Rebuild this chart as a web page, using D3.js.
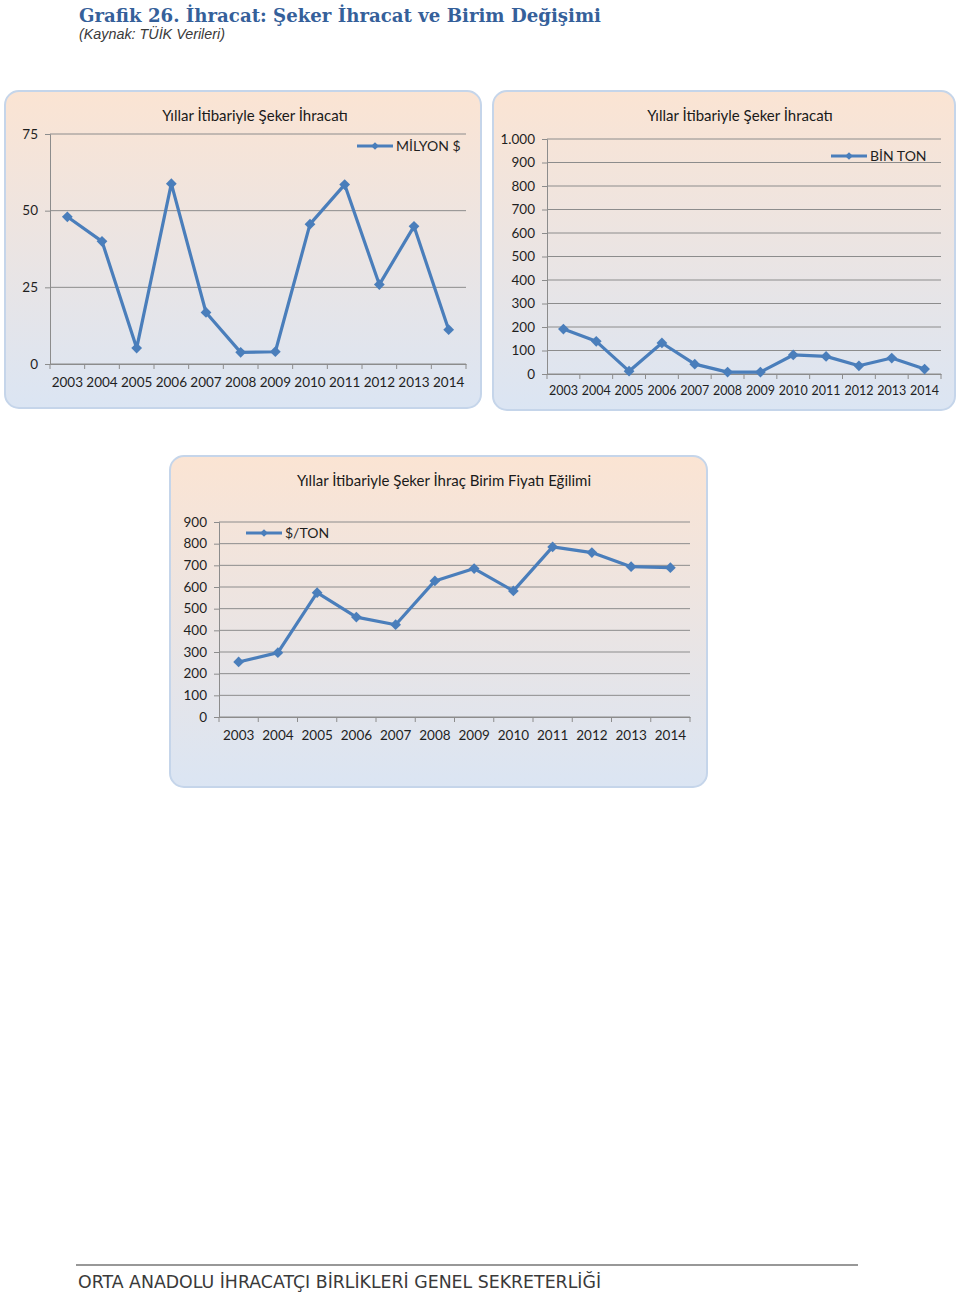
<!DOCTYPE html>
<html><head><meta charset="utf-8">
<script src="https://cdn.jsdelivr.net/npm/d3@7"></script>
<style>body{margin:0;background:#fff}svg{display:block}</style>
</head><body>
<svg id="c" width="960" height="1292"></svg>
<script>
const years = ["2003","2004","2005","2006","2007","2008","2009","2010","2011","2012","2013","2014"];
const milyonDolar = [48, 40, 5.2, 58.8, 16.8, 3.8, 4, 45.6, 58.5, 25.9, 44.9, 11.2];
const binTon = [191, 139, 12, 132, 42, 8, 8, 81, 75, 35, 68, 21];
const dolarTon = [254, 297, 574, 461, 426, 628, 685, 582, 785, 759, 694, 689];
const ticks1 = [0, 25, 50, 75];
const ticks2 = [0, 100, 200, 300, 400, 500, 600, 700, 800, 900, 1000];
const ticks3 = [0, 100, 200, 300, 400, 500, 600, 700, 800, 900];
const titleA = "Yıllar  İtibariyle Şeker İhracatı";
const titleC = "Yıllar  İtibariyle Şeker İhraç Birim Fiyatı Eğilimi";
const legends = ["MİLYON $", "BİN TON", "$/TON"];

const svg = d3.select("#c");
const trLocale = d3.formatLocale({decimal: ",", thousands: ".", grouping: [3], currency: ["", ""]});
const fmt = trLocale.format(",");

const defs = svg.append("defs");
const grad = defs.append("linearGradient").attr("id", "bg").attr("x1", 0).attr("y1", 0).attr("x2", 0).attr("y2", 1);
grad.append("stop").attr("offset", "0%").attr("stop-color", "#fbe4d3");
grad.append("stop").attr("offset", "100%").attr("stop-color", "#dbe5f3");

// header
svg.append("text").attr("x", 79).attr("y", 22)
  .attr("font-family", "DejaVu Serif").attr("font-weight", "bold").attr("font-size", 19)
  .attr("fill", "#35609a").attr("textLength", 522).attr("lengthAdjust", "spacingAndGlyphs")
  .text("Grafik 26. İhracat: Şeker İhracat ve Birim Değişimi");
svg.append("text").attr("x", 79).attr("y", 39)
  .attr("font-family", "Liberation Sans").attr("font-style", "italic").attr("font-size", 14)
  .attr("fill", "#3a3a3a").attr("textLength", 146).attr("lengthAdjust", "spacingAndGlyphs")
  .text("(Kaynak: TÜİK Verileri)");

// footer
svg.append("line").attr("x1", 76).attr("x2", 858).attr("y1", 1265).attr("y2", 1265)
  .attr("stroke", "#333").attr("stroke-width", 1.2);
svg.append("text").attr("x", 78).attr("y", 1288)
  .attr("font-family", "DejaVu Sans").attr("font-size", 17).attr("fill", "#3a3a3a")
  .attr("textLength", 523).attr("lengthAdjust", "spacingAndGlyphs")
  .text("ORTA ANADOLU İHRACATÇI BİRLİKLERİ GENEL SEKRETERLİĞİ");

function drawChart(cfg) {
  const g = svg.append("g");
  g.append("rect").attr("x", cfg.box[0]).attr("y", cfg.box[1])
    .attr("width", cfg.box[2] - cfg.box[0]).attr("height", cfg.box[3] - cfg.box[1])
    .attr("rx", 14).attr("ry", 14).attr("fill", "url(#bg)")
    .attr("stroke", "#c5d5ea").attr("stroke-width", 2);
  g.append("text").attr("x", cfg.titleX).attr("y", cfg.titleY).attr("text-anchor", "middle")
    .attr("font-family", "Lato").attr("font-size", 15).attr("fill", "#1a1a1a").text(cfg.title);

  const x = d3.scaleBand().domain(years).range([cfg.px0, cfg.px1]);
  const y = d3.scaleLinear().domain([0, cfg.max]).range([cfg.py0, cfg.py1]);

  // gridlines
  g.selectAll(".grid").data(cfg.ticks).join("line")
    .attr("x1", cfg.px0).attr("x2", cfg.px1)
    .attr("y1", d => y(d)).attr("y2", d => y(d))
    .attr("stroke", "#8c8c8c").attr("stroke-width", 1);

  // y axis
  const ya = g.append("g").attr("transform", `translate(${cfg.px0},0)`)
    .call(d3.axisLeft(y).tickValues(cfg.ticks).tickSize(5).tickPadding(cfg.yPad).tickFormat(cfg.fmt));
  ya.select(".domain").attr("stroke", "#8c8c8c");
  ya.selectAll(".tick line").attr("stroke", "#8c8c8c");
  ya.selectAll("text").attr("font-family", "Lato").attr("font-size", 13.5).attr("fill", "#1f1f1f");

  // x axis
  const xa = g.append("g").attr("transform", `translate(0,${cfg.py0})`)
    .call(d3.axisBottom(x).tickSize(0).tickPadding(cfg.xPad));
  xa.select(".domain").attr("stroke", "#8c8c8c");
  xa.selectAll("text").attr("font-family", "Lato").attr("font-size", cfg.xFont).attr("fill", "#1f1f1f");
  const bounds = years.map(d => x(d)).concat([cfg.px1]);
  g.selectAll(".xt").data(bounds).join("line")
    .attr("x1", d => d).attr("x2", d => d).attr("y1", cfg.py0).attr("y2", cfg.py0 + 5)
    .attr("stroke", "#8c8c8c");

  const cx = d => x(d) + x.bandwidth() / 2;
  const line = d3.line().x((d, i) => cx(years[i])).y(d => y(d));
  g.append("path").datum(cfg.values).attr("d", line).attr("fill", "none")
    .attr("stroke", "#4a7ebb").attr("stroke-width", 3.2).attr("stroke-linejoin", "round");
  const diamond = d3.symbol().type(d3.symbolSquare).size(58);
  g.selectAll(".pt").data(cfg.values).join("path")
    .attr("d", diamond).attr("transform", (d, i) => `translate(${cx(years[i])},${y(d)}) rotate(45)`)
    .attr("fill", "#4a7ebb");

  // legend
  const lg = g.append("g").attr("transform", `translate(${cfg.leg[0]},${cfg.leg[1]})`);
  lg.append("line").attr("x1", 0).attr("x2", 36).attr("stroke", "#4a7ebb").attr("stroke-width", 3.2);
  lg.append("path").attr("d", d3.symbol().type(d3.symbolSquare).size(30)()).attr("transform", "translate(18,0) rotate(45)").attr("fill", "#4a7ebb");
  lg.append("text").attr("x", 39).attr("y", 5).attr("font-family", "Lato").attr("font-size", 14)
    .attr("fill", "#1f1f1f").text(cfg.legend);
}

drawChart({box: [5, 91, 481, 408], title: titleA, titleX: 255, titleY: 121,
  px0: 50, px1: 466, py0: 364, py1: 134, max: 75, ticks: ticks1, values: milyonDolar,
  fmt: d3.format("d"), yPad: 7, xPad: 13, xFont: 13.5, legend: legends[0], leg: [357, 146]});
drawChart({box: [493, 91, 955, 410], title: titleA, titleX: 740, titleY: 121,
  px0: 547, px1: 941, py0: 374, py1: 139, max: 1000, ticks: ticks2, values: binTon,
  fmt: fmt, yPad: 7, xPad: 12, xFont: 12.5, legend: legends[1], leg: [831, 156]});
drawChart({box: [170, 456, 707, 787], title: titleC, titleX: 444, titleY: 486,
  px0: 219, px1: 690, py0: 717, py1: 522, max: 900, ticks: ticks3, values: dolarTon,
  fmt: d3.format("d"), yPad: 7, xPad: 13, xFont: 13.5, legend: legends[2], leg: [246, 533]});
</script>
</body></html>
